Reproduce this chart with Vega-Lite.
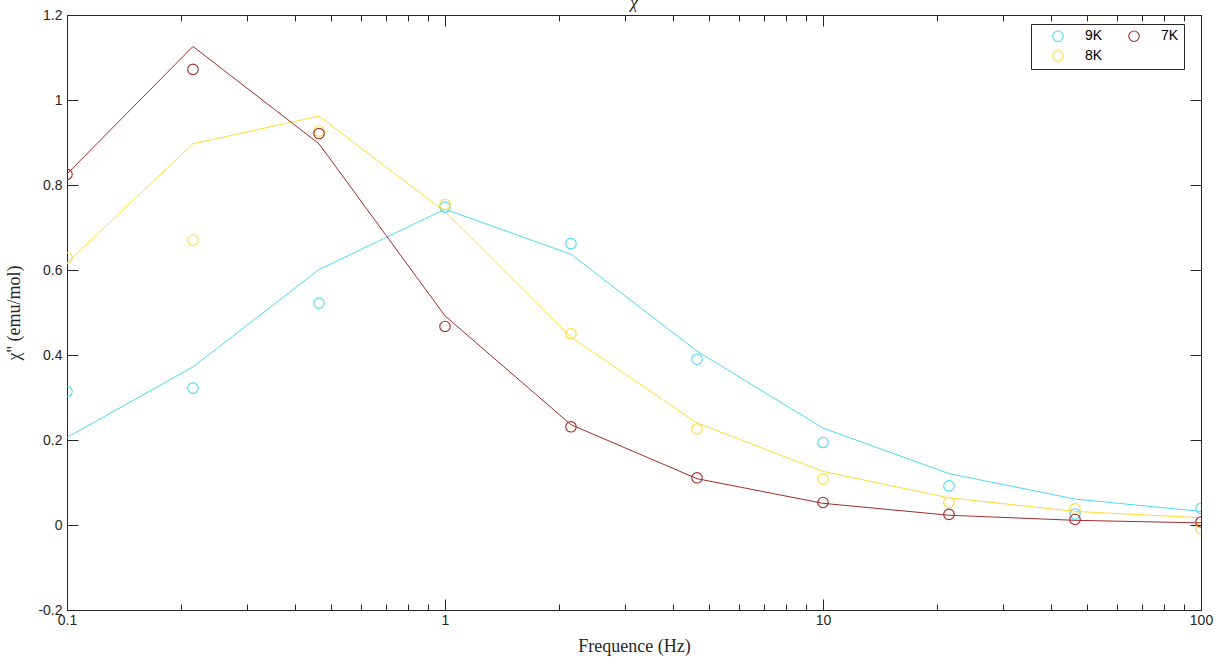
{
  "$schema": "https://vega.github.io/schema/vega-lite/v6.json",
  "width": 1134,
  "height": 595,
  "autosize": {"type": "none"},
  "padding": {"left": 67, "top": 15, "right": 25, "bottom": 54},
  "background": "white",
  "config": {
    "view": {"stroke": "#262626", "strokeWidth": 1},
    "axis": {
      "domainColor": "#262626",
      "tickColor": "#262626",
      "labelColor": "#262626",
      "labelFont": "Liberation Sans",
      "labelFontSize": 14,
      "titleFont": "Liberation Serif",
      "titleFontWeight": "normal",
      "titleFontSize": 18,
      "titleColor": "#262626",
      "grid": false
    }
  },
  "title": {
    "text": "χ",
    "font": "Liberation Serif",
    "fontStyle": "italic",
    "fontWeight": "normal",
    "fontSize": 17,
    "color": "#262626",
    "anchor": "middle",
    "offset": -4
  },
  "data": {
    "values": [
      {"f": 0.1, "T": "9K", "obs": 0.314, "fit": 0.206},
      {"f": 0.2154, "T": "9K", "obs": 0.322, "fit": 0.372},
      {"f": 0.4642, "T": "9K", "obs": 0.522, "fit": 0.601},
      {"f": 1.0, "T": "9K", "obs": 0.748, "fit": 0.743},
      {"f": 2.154, "T": "9K", "obs": 0.662, "fit": 0.637},
      {"f": 4.642, "T": "9K", "obs": 0.390, "fit": 0.409},
      {"f": 10.0, "T": "9K", "obs": 0.194, "fit": 0.228},
      {"f": 21.54, "T": "9K", "obs": 0.092, "fit": 0.121},
      {"f": 46.42, "T": "9K", "obs": 0.026, "fit": 0.061},
      {"f": 100.0, "T": "9K", "obs": 0.039, "fit": 0.032},
      {"f": 0.1, "T": "8K", "obs": 0.628, "fit": 0.617},
      {"f": 0.2154, "T": "8K", "obs": 0.670, "fit": 0.897},
      {"f": 0.4642, "T": "8K", "obs": 0.927, "fit": 0.962},
      {"f": 1.0, "T": "8K", "obs": 0.754, "fit": 0.737},
      {"f": 2.154, "T": "8K", "obs": 0.450, "fit": 0.442},
      {"f": 4.642, "T": "8K", "obs": 0.226, "fit": 0.240},
      {"f": 10.0, "T": "8K", "obs": 0.108, "fit": 0.126},
      {"f": 21.54, "T": "8K", "obs": 0.053, "fit": 0.064},
      {"f": 46.42, "T": "8K", "obs": 0.038, "fit": 0.032},
      {"f": 100.0, "T": "8K", "obs": -0.009, "fit": 0.017},
      {"f": 0.1, "T": "7K", "obs": 0.825, "fit": 0.826},
      {"f": 0.2154, "T": "7K", "obs": 1.072, "fit": 1.126},
      {"f": 0.4642, "T": "7K", "obs": 0.921, "fit": 0.897},
      {"f": 1.0, "T": "7K", "obs": 0.467, "fit": 0.492},
      {"f": 2.154, "T": "7K", "obs": 0.231, "fit": 0.236},
      {"f": 4.642, "T": "7K", "obs": 0.111, "fit": 0.109},
      {"f": 10.0, "T": "7K", "obs": 0.053, "fit": 0.051},
      {"f": 21.54, "T": "7K", "obs": 0.025, "fit": 0.023},
      {"f": 46.42, "T": "7K", "obs": 0.013, "fit": 0.011},
      {"f": 100.0, "T": "7K", "obs": 0.007, "fit": 0.005}
    ]
  },
  "layer": [
    {
      "mark": {"type": "line", "strokeWidth": 1, "clip": true},
      "encoding": {
        "x": {
          "field": "f", "type": "quantitative",
          "scale": {"type": "log", "domain": [0.1, 100], "nice": false},
          "axis": {
            "orient": "bottom",
            "title": "Frequence (Hz)",
            "titlePadding": 5,
            "values": [0.1, 0.2, 0.3, 0.4, 0.5, 0.6, 0.7, 0.8, 0.9, 1, 2, 3, 4, 5, 6, 7, 8, 9, 10, 20, 30, 40, 50, 60, 70, 80, 90, 100],
            "labelExpr": "datum.value == 0.1 ? '0.1' : datum.value == 1 ? '1' : datum.value == 10 ? '10' : datum.value == 100 ? '100' : ''",
            "labelOverlap": false,
            "labelFlush": false,
            "labelBound": false,
            "labelPadding": 14,
            "tickSize": {"condition": {"test": "datum.value == 0.1 || datum.value == 1 || datum.value == 10 || datum.value == 100", "value": -11}, "value": -6}
          }
        },
        "y": {
          "field": "fit", "type": "quantitative",
          "scale": {"domain": [-0.2, 1.2], "nice": false, "zero": false},
          "axis": {
            "orient": "left",
            "title": "χ'' (emu/mol)",
            "titlePadding": 14,
            "values": [-0.2, 0, 0.2, 0.4, 0.6, 0.8, 1, 1.2],
            "labelExpr": "replace(format(datum.value, '~g'), '−', '-')",
            "labelPadding": 16,
            "tickSize": -11
          }
        },
        "color": {
          "field": "T", "type": "nominal",
          "scale": {"domain": ["9K", "7K", "8K"], "range": ["#4dd8f5", "#a02c2c", "#ffd934"]},
          "legend": {
            "title": null,
            "orient": "none",
            "legendX": 964,
            "legendY": 9,
            "columns": 2,
            "direction": "horizontal",
            "columnPadding": 9,
            "rowPadding": 4,
            "padding": 5,
            "strokeColor": "#262626",
            "fillColor": "white",
            "symbolType": "circle",
            "symbolFillColor": "transparent",
            "symbolSize": 110,
            "symbolStrokeWidth": 1.1,
            "symbolOffset": 15,
            "labelOffset": 20,
            "labelFont": "Liberation Sans",
            "labelFontSize": 14,
            "labelColor": "#000000"
          }
        }
      }
    },
    {
      "mark": {"type": "point", "shape": "circle", "filled": false, "size": 110, "strokeWidth": 1.1, "opacity": 1, "clip": true},
      "encoding": {
        "x": {
          "field": "f", "type": "quantitative",
          "scale": {"type": "log", "domain": [0.1, 100], "nice": false},
          "axis": {
            "orient": "top",
            "title": null,
            "values": [0.1, 0.2, 0.3, 0.4, 0.5, 0.6, 0.7, 0.8, 0.9, 1, 2, 3, 4, 5, 6, 7, 8, 9, 10, 20, 30, 40, 50, 60, 70, 80, 90, 100],
            "labels": false,
            "tickSize": {"condition": {"test": "datum.value == 0.1 || datum.value == 1 || datum.value == 10 || datum.value == 100", "value": -11}, "value": -6}
          }
        },
        "y": {
          "field": "obs", "type": "quantitative",
          "scale": {"domain": [-0.2, 1.2], "nice": false, "zero": false},
          "axis": {
            "orient": "right",
            "title": null,
            "values": [-0.2, 0, 0.2, 0.4, 0.6, 0.8, 1, 1.2],
            "labels": false,
            "tickSize": -11
          }
        },
        "color": {
          "field": "T", "type": "nominal",
          "scale": {"domain": ["9K", "7K", "8K"], "range": ["#4dd8f5", "#a02c2c", "#ffd934"]},
          "legend": {
            "title": null,
            "orient": "none",
            "legendX": 964,
            "legendY": 9,
            "columns": 2,
            "direction": "horizontal",
            "columnPadding": 9,
            "rowPadding": 4,
            "padding": 5,
            "strokeColor": "#262626",
            "fillColor": "white",
            "symbolType": "circle",
            "symbolFillColor": "transparent",
            "symbolSize": 110,
            "symbolStrokeWidth": 1.1,
            "symbolOffset": 15,
            "labelOffset": 20,
            "labelFont": "Liberation Sans",
            "labelFontSize": 14,
            "labelColor": "#000000"
          }
        }
      }
    }
  ],
  "resolve": {"axis": {"x": "independent", "y": "independent"}}
}
